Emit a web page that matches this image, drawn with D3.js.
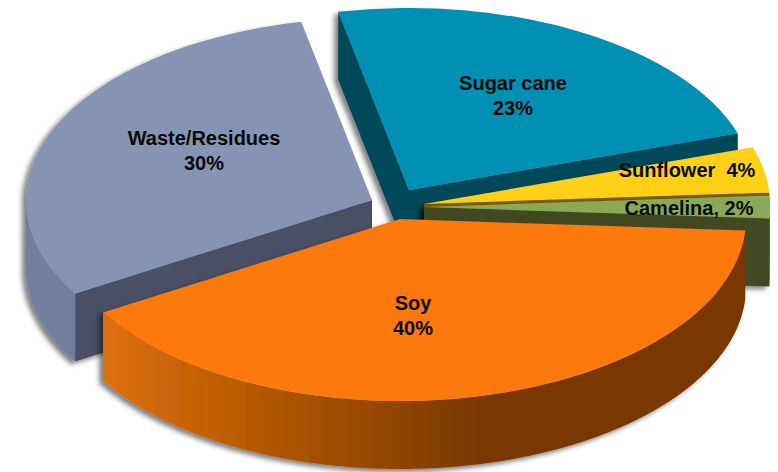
<!DOCTYPE html>
<html>
<head>
<meta charset="utf-8">
<script src="https://cdn.jsdelivr.net/npm/d3@7"></script>
<style>
  html, body { margin: 0; padding: 0; background: #fff; }
  svg { display: block; }
  text { font-family: "Liberation Sans", Arial, sans-serif; font-weight: 700; font-size: 20px; fill: #0a0a0a; white-space: pre; }
</style>
</head>
<body>
<svg id="chart" width="778" height="472"></svg>
<script>
// Feedstock shares, clockwise from the top of the pie
const categories = ["Sugar cane", "Sunflower", "Camelina", "Soy", "Waste/Residues"];
const shares = [23, 4, 2, 40, 30];
const labelLines = [["Sugar cane", "23%"], ["Sunflower  4%"], ["Camelina, 2%"], ["Soy", "40%"], ["Waste/Residues", "30%"]];

const topColors = ["#0190b3", "#fdd017", "#8aa956", "#fb790f", "#8694b4"];
const cutColors = ["#02485a", "#7a5c00", "#3f4a22", "#8a4203", "#4a4f65"];
const rimColors = ["#02485a", "#7a5c00", "#3f4a22", "url(#soyRim)", "#6f7f9f"];

// Projection of the tilted disc
const width = 778, height = 472;
const cx = 400, cy = 204, rx = 346, ry = 182, depth = 68;
const tiltY = d3.scaleLinear().domain([0, rx]).range([0, ry]);

// How far each wedge is pulled out of the disc, in px
const pullX = [9, 24, 24, 0, -28];
const pullY = [-14, 0, 3, 15, -4];

// Label anchors relative to the disc centre
const labelDX = [113, 287, 289, 13, -196];
const labelDY = [-114, -27, 11, 106, -59];
const lineStep = 24.5;

const startDeg = -11.8;
const pie = d3.pie().sort(null).value(d => d)
  .startAngle(startDeg * Math.PI / 180)
  .endAngle((360 + startDeg) * Math.PI / 180);
const arcs = pie(shares);

const rimPoint = a => [rx * Math.sin(a), -tiltY(rx * Math.cos(a))];
const ring = d3.line();

function rimSamples(a0, a1) {
  const n = Math.max(2, Math.ceil((a1 - a0) / 0.01));
  return d3.range(n + 1).map(i => rimPoint(a0 + (a1 - a0) * i / n));
}

const svg = d3.select("#chart");
const defs = svg.append("defs");

const shadow = defs.append("filter").attr("id", "castShadow")
  .attr("x", "-10%").attr("y", "-10%").attr("width", "120%").attr("height", "125%");
shadow.append("feDropShadow")
  .attr("dx", -4).attr("dy", 3).attr("stdDeviation", 2.5)
  .attr("flood-color", "#000").attr("flood-opacity", 0.5);

// Soy rim: narrow vertical bands darkening from left to right, then flat
const bandCount = 30;
const soyBands = d3.quantize(d3.interpolateRgb("#dc6e08", "#783700"), bandCount);
const soyGrad = defs.append("linearGradient").attr("id", "soyRim")
  .attr("gradientUnits", "userSpaceOnUse")
  .attr("x1", -296).attr("x2", 90).attr("y1", 0).attr("y2", 0);
soyBands.forEach((c, i) => {
  soyGrad.append("stop").attr("offset", i / bandCount).attr("stop-color", c);
  soyGrad.append("stop").attr("offset", (i + 1) / bandCount).attr("stop-color", c);
});

const arcPath = d3.arc().innerRadius(0).outerRadius(rx);

// Back to front so nearer wedges cover the cut faces behind them
const drawOrder = [4, 0, 1, 2, 3];
drawOrder.forEach(i => {
  const a = arcs[i];
  const a0 = a.startAngle, a1 = a.endAngle;
  const g = svg.append("g")
    .attr("transform", `translate(${cx + pullX[i]},${cy + pullY[i]})`)
    .attr("filter", "url(#castShadow)");

  const cutFace = angle => {
    const [x, y] = rimPoint(angle);
    return ring([[0, 0], [x, y], [x, y + depth], [0, depth]]) + "Z";
  };
  // A cut face shows only when its outward normal turns down the page
  if (Math.sin(a0) < 0) g.append("path").attr("d", cutFace(a0)).attr("fill", cutColors[i]);
  if (Math.sin(a1) > 0) g.append("path").attr("d", cutFace(a1)).attr("fill", cutColors[i]);

  // Outer rim, only the part on the near side of the disc
  const from = Math.max(a0, Math.PI / 2), to = Math.min(a1, 3 * Math.PI / 2);
  if (to > from) {
    const edge = rimSamples(from, to);
    const lower = edge.map(([x, y]) => [x, y + depth]).reverse();
    g.append("path").attr("d", ring(edge.concat(lower)) + "Z").attr("fill", rimColors[i]);
  }

  g.append("path")
    .attr("transform", `scale(1,${ry / rx})`)
    .attr("d", arcPath(a))
    .attr("fill", topColors[i]);
});

// Labels sit above every wedge
const labels = svg.append("g").selectAll("text").data(labelLines).join("text")
  .attr("text-anchor", "middle")
  .attr("transform", (d, i) => `translate(${cx + labelDX[i]},${cy + labelDY[i]})`);
labels.selectAll("tspan").data(d => d).join("tspan")
  .attr("x", 0)
  .attr("dy", (d, j) => j === 0 ? 0 : lineStep)
  .text(d => d);
</script>
</body>
</html>
